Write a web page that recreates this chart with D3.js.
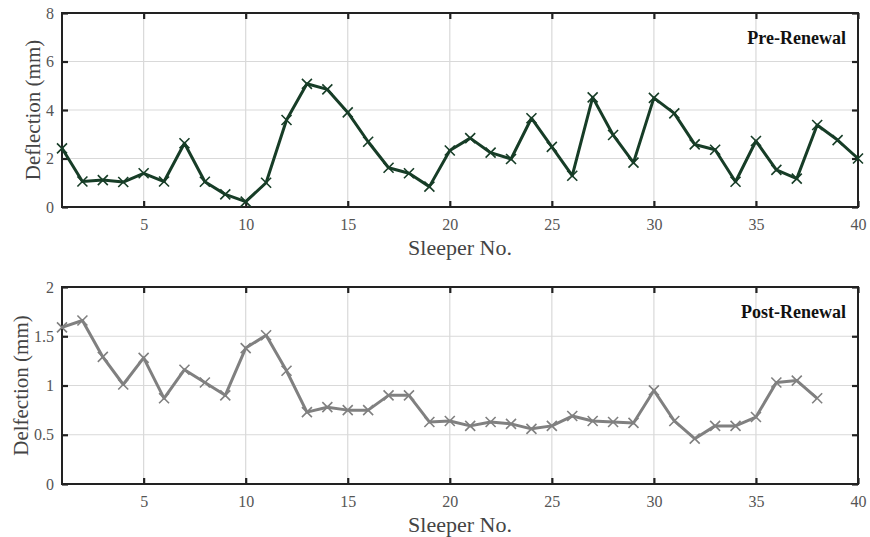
<!DOCTYPE html>
<html>
<head>
<meta charset="utf-8">
<script src="https://cdn.jsdelivr.net/npm/d3@7"></script>
<style>
  body { margin: 0; background: #fff; }
  text { font-family: "Liberation Serif", "Times New Roman", serif; }
</style>
</head>
<body>
<div id="chart"></div>
<script>
// sleeper deflection
var sleepers = d3.range(1, 41);
var preRenewal = [2.42, 1.05, 1.11, 1.03, 1.39, 1.05, 2.63, 1.04, 0.52, 0.22,
                  1.0, 3.59, 5.08, 4.85, 3.9, 2.69, 1.62, 1.39, 0.84, 2.33,
                  2.84, 2.24, 1.98, 3.66, 2.48, 1.29, 4.52, 2.97, 1.83, 4.5,
                  3.86, 2.58, 2.36, 1.04, 2.72, 1.53, 1.17, 3.38, 2.76, 2.0];
var postRenewal = [1.59, 1.66, 1.29, 1.01, 1.28, 0.87, 1.16, 1.03, 0.9, 1.38,
                   1.51, 1.15, 0.73, 0.78, 0.75, 0.75, 0.9, 0.9, 0.63, 0.64,
                   0.59, 0.63, 0.61, 0.56, 0.59, 0.69, 0.64, 0.63, 0.62, 0.95,
                   0.64, 0.46, 0.59, 0.59, 0.68, 1.03, 1.05, 0.87];
var xTicks = [5, 10, 15, 20, 25, 30, 35, 40];
var preTicks = [0, 2, 4, 6, 8];
var postTicks = [0, 0.5, 1, 1.5, 2];

var width = 870, height = 537;
var svg = d3.select('#chart').append('svg')
  .attr('width', width)
  .attr('height', height);

var x = d3.scaleLinear().domain([1, 40]).range([62, 858]);
var serif = '"Liberation Serif", "Times New Roman", serif';

function panel(cfg) {
  var y = d3.scaleLinear().domain(cfg.yDomain).range([cfg.bottom, cfg.top]);
  var g = svg.append('g');

  // grid
  g.selectAll('.vgrid').data(xTicks.filter(d => d < 40))
    .enter().append('line')
    .attr('x1', d => x(d)).attr('x2', d => x(d))
    .attr('y1', cfg.top).attr('y2', cfg.bottom)
    .attr('stroke', '#d9d9d9').attr('stroke-width', 1.2);
  g.selectAll('.hgrid').data(cfg.yTicks.slice(1, -1))
    .enter().append('line')
    .attr('x1', x.range()[0]).attr('x2', x.range()[1])
    .attr('y1', d => y(d)).attr('y2', d => y(d))
    .attr('stroke', '#d9d9d9').attr('stroke-width', 1.2);

  // axes (ticks point inward, mirrored on top/right)
  var fmt = d3.format('');
  g.append('g').attr('transform', 'translate(0,' + cfg.bottom + ')')
    .call(d3.axisBottom(x).tickValues(xTicks).tickSize(-6).tickPadding(12).tickFormat(fmt));
  g.append('g').attr('transform', 'translate(0,' + cfg.top + ')')
    .call(d3.axisTop(x).tickValues(xTicks).tickSize(-6).tickFormat(''));
  g.append('g').attr('transform', 'translate(' + x.range()[0] + ',0)')
    .call(d3.axisLeft(y).tickValues(cfg.yTicks).tickSize(-6).tickPadding(8).tickFormat(fmt));
  g.append('g').attr('transform', 'translate(' + x.range()[1] + ',0)')
    .call(d3.axisRight(y).tickValues(cfg.yTicks).tickSize(-6).tickFormat(''));

  g.selectAll('.domain').remove();
  g.selectAll('.tick line').attr('stroke', '#222').attr('stroke-width', 2.2);
  g.selectAll('.tick text').attr('fill', '#555')
    .style('font-family', serif).style('font-size', '16px');

  g.append('rect')
    .attr('x', x.range()[0]).attr('y', cfg.top)
    .attr('width', x.range()[1] - x.range()[0]).attr('height', cfg.bottom - cfg.top)
    .attr('fill', 'none').attr('stroke', '#222').attr('stroke-width', 2);

  // series line
  var pts = cfg.values.map((v, i) => [sleepers[i], v]);
  var line = d3.line().x(d => x(d[0])).y(d => y(d[1]));
  g.append('path').datum(pts)
    .attr('d', line)
    .attr('fill', 'none')
    .attr('stroke', cfg.color)
    .attr('stroke-width', 3)
    .attr('stroke-linejoin', 'round');

  var s = 5;
  g.selectAll('.mark').data(pts).enter().append('path')
    .attr('d', d => {
      var cx = x(d[0]), cy = y(d[1]);
      return 'M' + (cx - s) + ',' + (cy - s) + 'L' + (cx + s) + ',' + (cy + s) +
             'M' + (cx - s) + ',' + (cy + s) + 'L' + (cx + s) + ',' + (cy - s);
    })
    .attr('stroke', cfg.color).attr('stroke-width', 1.6).attr('fill', 'none');

  // labels
  g.append('text')
    .attr('x', 846).attr('y', cfg.top + 31)
    .attr('text-anchor', 'end')
    .attr('font-weight', 'bold')
    .style('font-size', '18px')
    .attr('fill', '#111')
    .text(cfg.title);

  g.append('text')
    .attr('x', (x.range()[0] + x.range()[1]) / 2).attr('y', cfg.bottom + 48)
    .attr('text-anchor', 'middle')
    .style('font-size', '22px')
    .attr('fill', '#444')
    .text('Sleeper No.');

  g.append('text')
    .attr('transform', 'translate(' + cfg.yLabelX + ',' + ((cfg.top + cfg.bottom) / 2) + ') rotate(-90)')
    .attr('text-anchor', 'middle')
    .style('font-size', '21px')
    .attr('fill', '#444')
    .text(cfg.yLabel);
}

panel({ top: 13, bottom: 207, yDomain: [0, 8], yTicks: preTicks, values: preRenewal,
        color: '#173d27', title: 'Pre-Renewal', yLabel: 'Deflection (mm)', yLabelX: 40 });
panel({ top: 287, bottom: 484, yDomain: [0, 2], yTicks: postTicks, values: postRenewal,
        color: '#808080', title: 'Post-Renewal', yLabel: 'Delfection (mm)', yLabelX: 28 });
</script>
</body>
</html>
